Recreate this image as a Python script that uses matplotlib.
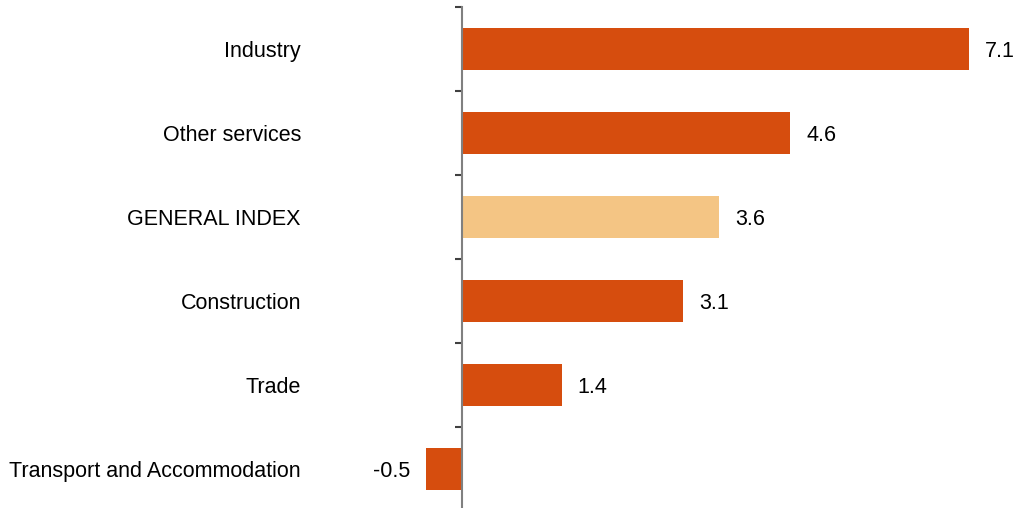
import matplotlib
matplotlib.use("Agg")
import matplotlib.pyplot as plt
import numpy as np

categories = ["Industry", "Other services", "GENERAL INDEX", "Construction", "Trade",
              "Transport and Accommodation"]
values = [7.1, 4.6, 3.6, 3.1, 1.4, -0.5]
labels = ["7.1", "4.6", "3.6", "3.1", "1.4", "-0.5"]
highlight = "GENERAL INDEX"

plt.rcParams['font.family'] = ['Liberation Sans', 'DejaVu Sans']

W, H = 1013, 508
fig = plt.figure(figsize=(W / 100, H / 100), dpi=100)
x0 = 462 - 71.4
ax = fig.add_axes([x0 / W, (H - 511) / H, (W - x0) / W, 504 / H])

colors = ["#F4C584" if c == highlight else "#D64D0E" for c in categories]
y = np.arange(len(categories))
ax.barh(y, values, height=0.5, color=colors, edgecolor="none", zorder=2)

ax.set_xlim(-1.0, (W - x0) / 71.4 - 1.0)
ax.set_ylim(len(categories) - 0.5, -0.5)

for s in ["top", "right", "bottom"]:
    ax.spines[s].set_visible(False)
ax.spines["left"].set_position(("data", 0))
ax.spines["left"].set_color("#808080")
ax.spines["left"].set_linewidth(1.5)
ax.spines["left"].set_zorder(3)
ax.set_xticks([])

ax.set_yticks(np.arange(len(categories) + 1) - 0.5)
ax.set_yticklabels([])
ax.tick_params(axis="y", which="major", length=5, width=1.5, color="#404040", direction="out")
ax.set_yticks(y, minor=True)
ax.set_yticklabels(categories, minor=True, fontsize=15.5, color="#000000")
ax.tick_params(axis="y", which="minor", length=0, pad=116)

for yi, v, lab in zip(y, values, labels):
    off = 0.22
    if v >= 0:
        ax.text(v + off, yi, lab, va="center_baseline", ha="left", fontsize=15.5)
    else:
        ax.text(v - off, yi, lab, va="center_baseline", ha="right", fontsize=15.5)

fig.savefig("out.png", dpi=100)
